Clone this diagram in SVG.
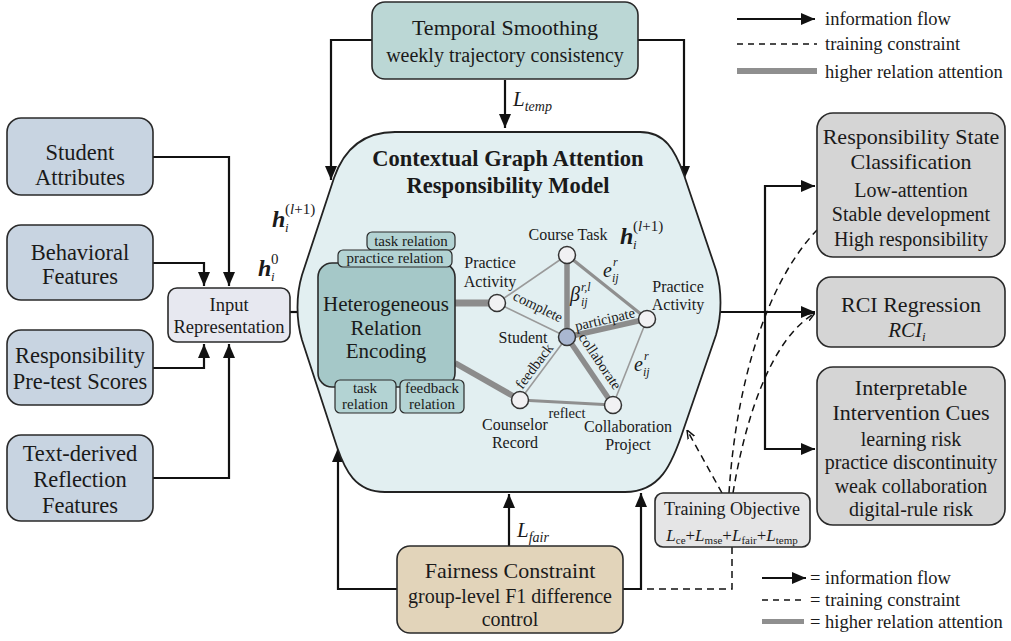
<svg xmlns="http://www.w3.org/2000/svg" width="1011" height="641" viewBox="0 0 1011 641">
<defs>
<marker id="arr" viewBox="0 0 14 12" refX="14" refY="6" markerWidth="14" markerHeight="12" markerUnits="userSpaceOnUse" orient="auto"><path d="M0,0 L14,6 L0,12 z" fill="#111"/></marker>
<marker id="darr" viewBox="0 0 10 10" refX="10" refY="5" markerWidth="9" markerHeight="9" markerUnits="userSpaceOnUse" orient="auto"><path d="M0,1 L10,5 L0,9" fill="none" stroke="#111" stroke-width="1.6"/></marker>
</defs>
<style>
.box{stroke:#2a2a2a;stroke-width:1.6;}
.left{fill:#c8d4e1;}
.right{fill:#d5d5d5;}
.flow{fill:none;stroke:#111;stroke-width:2.2;}
.dash{fill:none;stroke:#111;stroke-width:1.5;stroke-dasharray:7 5;}
.thin{stroke:#9a9a9a;stroke-width:1.6;fill:none;}
.mid{stroke:#8f8f8f;stroke-width:3.2;fill:none;}
.thick{stroke:#8c8c8c;stroke-width:5.5;fill:none;}
.node{fill:#f1f1f3;stroke:#333;stroke-width:1.5;}
.tab{fill:#b3d3d3;stroke:#2a2a2a;stroke-width:1.2;}
</style>
<rect width="1011" height="641" fill="#ffffff"/>

<g id="connectors">
<path class="flow" d="M153,157 H229 V286" marker-end="url(#arr)"/>
<path class="flow" d="M153,263 H204 V286" marker-end="url(#arr)"/>
<path class="flow" d="M153,368 H204 V344" marker-end="url(#arr)"/>
<path class="flow" d="M153,478 H229 V344" marker-end="url(#arr)"/>
<path class="flow" d="M290,312 H318" marker-end="url(#arr)"/>
<path class="flow" d="M372,40 H331 V180" marker-end="url(#arr)"/>
<path class="flow" d="M638,40 H684 V180" marker-end="url(#arr)"/>
<path class="flow" d="M505,80 V128" marker-end="url(#arr)"/>
<path class="flow" d="M397,589 H338 V448" marker-end="url(#arr)"/>
<path class="flow" d="M623,589 H641 V493" marker-end="url(#arr)"/>
<path class="flow" d="M509,546 V494" marker-end="url(#arr)"/>
<path class="flow" d="M720,312 H815" marker-end="url(#arr)"/>
<path class="flow" d="M765,312 V186 H815" marker-end="url(#arr)"/>
<path class="flow" d="M765,312 V449 H815" marker-end="url(#arr)"/>
<path class="dash" d="M722,493 L687,430" marker-end="url(#darr)"/>
<path class="dash" d="M729,493 C735,400 760,290 817,230"/>
<path class="dash" d="M733,493 C745,420 770,340 815,313" marker-end="url(#darr)"/>
<path class="dash" d="M732,547 V589 H625"/>
</g>

<g id="model">
<path d="M395,132 L640,132 C665,132 675,150 684,175 L716,270 C722,290 722,315 716,335 L684,428 C672,465 660,492 625,492 L385,492 C355,492 345,470 337,447 L302,340 C296,320 296,295 302,275 L334,178 C343,152 360,132 395,132 Z" fill="#e2eff1" stroke="#222" stroke-width="1.8"/>
<text x="508" y="166" text-anchor="middle" style="font-family:'Liberation Serif',serif;font-size:22.5px;font-weight:bold" fill="#1a1a1a">Contextual Graph Attention</text>
<text x="508" y="193" text-anchor="middle" style="font-family:'Liberation Serif',serif;font-size:22.5px;font-weight:bold" fill="#1a1a1a">Responsibility Model</text>
</g>

<g id="graph-edges">
<line class="thick" x1="455" y1="303" x2="497" y2="303" style="stroke-width:7"/>
<line class="thick" x1="455" y1="363" x2="520" y2="400" style="stroke-width:6"/>
<line class="thin" x1="497" y1="303" x2="567" y2="255"/>
<line class="thin" x1="497" y1="303" x2="567" y2="337"/>
<line class="thick" x1="567" y1="255" x2="567" y2="337"/>
<line class="mid" x1="567" y1="255" x2="647" y2="319"/>
<line class="thick" x1="567" y1="337" x2="647" y2="319"/>
<line class="thick" x1="567" y1="337" x2="613" y2="405"/>
<line class="thin" x1="567" y1="337" x2="520" y2="400"/>
<line class="mid" x1="520" y1="400" x2="613" y2="405"/>
<line class="thin" x1="647" y1="319" x2="613" y2="405"/>
</g>

<g id="hre" fill="#1a1a1a" text-anchor="middle">
<rect class="box" x="318" y="263" width="137" height="124" rx="14" fill="#a5c8c8"/>
<rect class="tab" x="367" y="232" width="88" height="18" rx="5"/>
<text x="411" y="246" style="font-family:'Liberation Serif',serif;font-size:15px">task relation</text>
<rect class="tab" x="338" y="250" width="114" height="17" rx="5"/>
<text x="395" y="263" style="font-family:'Liberation Serif',serif;font-size:15px">practice relation</text>
<rect class="tab" x="335" y="380" width="61" height="33" rx="5"/>
<text x="365" y="393" style="font-family:'Liberation Serif',serif;font-size:15px">task</text>
<text x="365" y="409" style="font-family:'Liberation Serif',serif;font-size:15px">relation</text>
<rect class="tab" x="400" y="380" width="64" height="33" rx="5"/>
<text x="432" y="393" style="font-family:'Liberation Serif',serif;font-size:15px">feedback</text>
<text x="432" y="409" style="font-family:'Liberation Serif',serif;font-size:15px">relation</text>
<text x="386" y="311" style="font-family:'Liberation Serif',serif;font-size:21px">Heterogeneous</text>
<text x="386" y="335" style="font-family:'Liberation Serif',serif;font-size:21px">Relation</text>
<text x="386" y="358" style="font-family:'Liberation Serif',serif;font-size:21px">Encoding</text>
</g>

<g id="node-practice-left" fill="#1a1a1a" text-anchor="middle"><circle class="node" cx="497" cy="303" r="8.5"/>
<text x="490" y="268" style="font-family:'Liberation Serif',serif;font-size:16px">Practice</text><text x="490" y="287" style="font-family:'Liberation Serif',serif;font-size:16px">Activity</text></g>
<g id="node-course-task" fill="#1a1a1a" text-anchor="middle"><circle class="node" cx="567" cy="255" r="8.5"/>
<text x="568" y="240" style="font-family:'Liberation Serif',serif;font-size:16px">Course Task</text></g>
<g id="node-practice-right" fill="#1a1a1a" text-anchor="middle"><circle class="node" cx="647" cy="319" r="8.5"/>
<text x="678" y="292" style="font-family:'Liberation Serif',serif;font-size:16px">Practice</text><text x="678" y="310" style="font-family:'Liberation Serif',serif;font-size:16px">Activity</text></g>
<g id="node-student" fill="#1a1a1a" text-anchor="middle"><circle cx="567" cy="337" r="8.5" fill="#a9b7d1" stroke="#333" stroke-width="1.5"/>
<text x="523" y="343" style="font-family:'Liberation Serif',serif;font-size:16px">Student</text></g>
<g id="node-counselor" fill="#1a1a1a" text-anchor="middle"><circle class="node" cx="520" cy="400" r="8.5"/>
<text x="515" y="430" style="font-family:'Liberation Serif',serif;font-size:16px">Counselor</text><text x="515" y="448" style="font-family:'Liberation Serif',serif;font-size:16px">Record</text></g>
<g id="node-collab" fill="#1a1a1a" text-anchor="middle"><circle class="node" cx="613" cy="405" r="8.5"/>
<text x="628" y="432" style="font-family:'Liberation Serif',serif;font-size:16px">Collaboration</text><text x="628" y="450" style="font-family:'Liberation Serif',serif;font-size:16px">Project</text></g>

<g id="edge-labels" fill="#1a1a1a">
<text text-anchor="middle" transform="translate(536,311) rotate(26)" style="font-family:'Liberation Serif',serif;font-size:14.5px">complete</text>
<text text-anchor="middle" transform="translate(606,324) rotate(-13)" style="font-family:'Liberation Serif',serif;font-size:14.5px">participate</text>
<text text-anchor="middle" transform="translate(596,364) rotate(56)" style="font-family:'Liberation Serif',serif;font-size:14.5px">collaborate</text>
<text text-anchor="middle" transform="translate(538,369) rotate(-53)" style="font-family:'Liberation Serif',serif;font-size:14.5px">feedback</text>
<text text-anchor="middle" x="567" y="418" style="font-family:'Liberation Serif',serif;font-size:14.5px">reflect</text>
<text x="570" y="301" style="font-family:'Liberation Serif',serif;font-size:20px;font-style:italic">β</text>
<text x="581" y="291" style="font-family:'Liberation Serif',serif;font-size:12px;font-style:italic">r,l</text>
<text x="581" y="306" style="font-family:'Liberation Serif',serif;font-size:12px;font-style:italic">ij</text>
<text x="603" y="277" style="font-family:'Liberation Serif',serif;font-size:20px;font-style:italic">e</text>
<text x="613" y="266" style="font-family:'Liberation Serif',serif;font-size:12px;font-style:italic">r</text>
<text x="612" y="282" style="font-family:'Liberation Serif',serif;font-size:12px;font-style:italic">ij</text>
<text x="634" y="371" style="font-family:'Liberation Serif',serif;font-size:20px;font-style:italic">e</text>
<text x="644" y="360" style="font-family:'Liberation Serif',serif;font-size:12px;font-style:italic">r</text>
<text x="643" y="376" style="font-family:'Liberation Serif',serif;font-size:12px;font-style:italic">ij</text>
<text x="620" y="244" style="font-family:'Liberation Serif',serif;font-size:24px;font-style:italic;font-weight:bold">h</text>
<text x="633" y="249" style="font-family:'Liberation Serif',serif;font-size:13px;font-style:italic">i</text>
<text x="633" y="231" style="font-family:'Liberation Serif',serif;font-size:15px">(<tspan style="font-style:italic">l</tspan>+1)</text>
</g>

<g id="h-labels" fill="#1a1a1a">
<text x="272" y="227" style="font-family:'Liberation Serif',serif;font-size:24px;font-style:italic;font-weight:bold">h</text>
<text x="285" y="232" style="font-family:'Liberation Serif',serif;font-size:13px;font-style:italic">i</text>
<text x="285" y="214" style="font-family:'Liberation Serif',serif;font-size:15px">(<tspan style="font-style:italic">l</tspan>+1)</text>
<text x="258" y="276" style="font-family:'Liberation Serif',serif;font-size:24px;font-style:italic;font-weight:bold">h</text>
<text x="271" y="281" style="font-family:'Liberation Serif',serif;font-size:13px;font-style:italic">i</text>
<text x="271" y="264" style="font-family:'Liberation Serif',serif;font-size:15px">0</text>
</g>

<g id="student-attributes" fill="#1a1a1a" text-anchor="middle"><rect class="box left" x="7" y="118" width="146" height="77" rx="14"/>
<text x="80" y="160" style="font-family:'Liberation Serif',serif;font-size:22.5px">Student</text><text x="80" y="185" style="font-family:'Liberation Serif',serif;font-size:22.5px">Attributes</text></g>
<g id="behavioral-features" fill="#1a1a1a" text-anchor="middle"><rect class="box left" x="7" y="225" width="146" height="75" rx="14"/>
<text x="80" y="260" style="font-family:'Liberation Serif',serif;font-size:22.5px">Behavioral</text><text x="80" y="284" style="font-family:'Liberation Serif',serif;font-size:22.5px">Features</text></g>
<g id="pretest-scores" fill="#1a1a1a" text-anchor="middle"><rect class="box left" x="7" y="330" width="146" height="75" rx="14"/>
<text x="80" y="363" style="font-family:'Liberation Serif',serif;font-size:22.5px">Responsibility</text><text x="80" y="389" style="font-family:'Liberation Serif',serif;font-size:22.5px">Pre-test Scores</text></g>
<g id="reflection-features" fill="#1a1a1a" text-anchor="middle"><rect class="box left" x="7" y="435" width="146" height="86" rx="14"/>
<text x="80" y="461" style="font-family:'Liberation Serif',serif;font-size:22.5px">Text-derived</text><text x="80" y="487" style="font-family:'Liberation Serif',serif;font-size:22.5px">Reflection</text><text x="80" y="513" style="font-family:'Liberation Serif',serif;font-size:22.5px">Features</text></g>
<g id="input-representation" fill="#1a1a1a" text-anchor="middle"><rect class="box" x="168" y="288" width="122" height="54" rx="9" fill="#e7e8f0"/>
<text x="229" y="311" style="font-family:'Liberation Serif',serif;font-size:18.5px">Input</text><text x="229" y="333" style="font-family:'Liberation Serif',serif;font-size:18.5px">Representation</text></g>

<g id="temporal-smoothing" fill="#1a1a1a" text-anchor="middle"><rect class="box" x="372" y="2" width="266" height="77" rx="13" fill="#bbd7d5"/>
<text x="505" y="35" style="font-family:'Liberation Serif',serif;font-size:22px">Temporal Smoothing</text>
<text x="505" y="62" style="font-family:'Liberation Serif',serif;font-size:20px">weekly trajectory consistency</text></g>
<text x="513" y="106" fill="#1a1a1a" style="font-family:'Liberation Serif',serif;font-size:21px;font-style:italic">L<tspan style="font-size:14px" dy="5">temp</tspan></text>

<g id="fairness-constraint" fill="#1a1a1a" text-anchor="middle"><rect class="box" x="397" y="546" width="226" height="87" rx="13" fill="#e2d4ba"/>
<text x="510" y="578" style="font-family:'Liberation Serif',serif;font-size:22px">Fairness Constraint</text>
<text x="510" y="603" style="font-family:'Liberation Serif',serif;font-size:20px">group-level F1 difference</text>
<text x="510" y="626" style="font-family:'Liberation Serif',serif;font-size:20px">control</text></g>
<text x="517" y="537" fill="#1a1a1a" style="font-family:'Liberation Serif',serif;font-size:21px;font-style:italic">L<tspan style="font-size:14px" dy="5">fair</tspan></text>

<g id="training-objective" fill="#1a1a1a" text-anchor="middle"><rect class="box" x="655" y="493" width="155" height="54" rx="8" fill="#e5e5e6"/>
<text x="732" y="515" style="font-family:'Liberation Serif',serif;font-size:18px">Training Objective</text>
<text x="732" y="541" style="font-family:'Liberation Serif',serif;font-size:17px"><tspan style="font-style:italic">L</tspan><tspan style="font-size:11px" dy="3">ce</tspan><tspan dy="-3">+</tspan><tspan style="font-style:italic">L</tspan><tspan style="font-size:11px" dy="3">mse</tspan><tspan dy="-3">+</tspan><tspan style="font-style:italic">L</tspan><tspan style="font-size:11px" dy="3">fair</tspan><tspan dy="-3">+</tspan><tspan style="font-style:italic">L</tspan><tspan style="font-size:11px" dy="3">temp</tspan></text></g>

<g id="state-classification" fill="#1a1a1a" text-anchor="middle"><rect class="box right" x="817" y="113" width="188" height="144" rx="16"/>
<text x="911" y="144" style="font-family:'Liberation Serif',serif;font-size:22px">Responsibility State</text>
<text x="911" y="169" style="font-family:'Liberation Serif',serif;font-size:22px">Classification</text>
<text x="911" y="197" style="font-family:'Liberation Serif',serif;font-size:20px">Low-attention</text>
<text x="911" y="221" style="font-family:'Liberation Serif',serif;font-size:20px">Stable development</text>
<text x="911" y="246" style="font-family:'Liberation Serif',serif;font-size:20px">High responsibility</text></g>
<g id="rci-regression" fill="#1a1a1a" text-anchor="middle"><rect class="box right" x="817" y="277" width="188" height="70" rx="14"/>
<text x="911" y="312" style="font-family:'Liberation Serif',serif;font-size:22px">RCI Regression</text>
<text x="907" y="337" style="font-family:'Liberation Serif',serif;font-size:21px;font-style:italic">RCI<tspan style="font-size:13px" dy="4">i</tspan></text></g>
<g id="intervention-cues" fill="#1a1a1a" text-anchor="middle"><rect class="box right" x="817" y="367" width="188" height="158" rx="16"/>
<text x="911" y="395" style="font-family:'Liberation Serif',serif;font-size:22px">Interpretable</text>
<text x="911" y="420" style="font-family:'Liberation Serif',serif;font-size:22px">Intervention Cues</text>
<text x="911" y="446" style="font-family:'Liberation Serif',serif;font-size:20px">learning risk</text>
<text x="911" y="469" style="font-family:'Liberation Serif',serif;font-size:20px">practice discontinuity</text>
<text x="911" y="493" style="font-family:'Liberation Serif',serif;font-size:20px">weak collaboration</text>
<text x="911" y="516" style="font-family:'Liberation Serif',serif;font-size:20px">digital-rule risk</text></g>

<g id="legend-top" fill="#1a1a1a">
<path class="flow" d="M737,19 H815" marker-end="url(#arr)"/>
<text x="825" y="25" style="font-family:'Liberation Serif',serif;font-size:18.5px">information flow</text>
<path class="dash" d="M737,44 H817" style="stroke-dasharray:6 5"/>
<text x="825" y="50" style="font-family:'Liberation Serif',serif;font-size:18.5px">training constraint</text>
<rect x="737" y="68" width="80" height="6" fill="#8f8f8f"/>
<text x="825" y="78" style="font-family:'Liberation Serif',serif;font-size:18.5px">higher relation attention</text>
</g>
<g id="legend-bottom" fill="#1a1a1a">
<path class="flow" d="M762,578 H806" marker-end="url(#arr)"/>
<text x="810" y="584" style="font-family:'Liberation Serif',serif;font-size:18.5px">= information flow</text>
<path class="dash" d="M762,600 H802" style="stroke-dasharray:6 5"/>
<text x="810" y="606" style="font-family:'Liberation Serif',serif;font-size:18.5px">= training constraint</text>
<rect x="762" y="619" width="42" height="5" fill="#8f8f8f"/>
<text x="810" y="628" style="font-family:'Liberation Serif',serif;font-size:18.5px">= higher relation attention</text>
</g>
</svg>
